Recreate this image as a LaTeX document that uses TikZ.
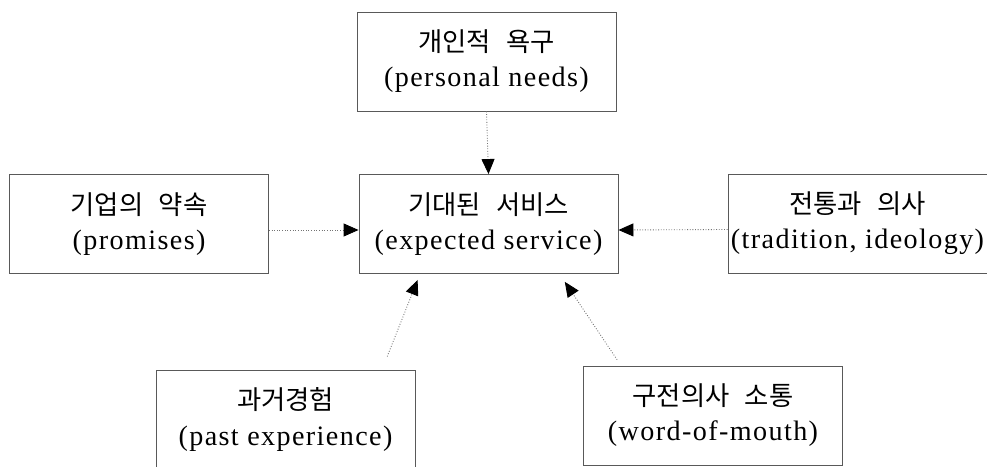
\documentclass[tikz,border=0pt]{standalone}
\usepackage{fontspec}
\setmainfont[LetterSpace=5]{Liberation Serif}
\newfontfamily\kr[WordSpace=2.6]{Noto Sans CJK KR}
\usetikzlibrary{arrows.meta}

\newcommand{\kname}[1]{{\kr\fontsize{15}{20}\selectfont #1}}

\begin{document}
\begin{tikzpicture}[
    factor/.style={rectangle,draw=black!65,line width=0.5pt,minimum width=5.18cm,minimum height=1.98cm,inner sep=0pt,align=center,font=\fontsize{16}{20}\selectfont},
    arrow/.style={-{Triangle[length=3mm,width=2.6mm,color=black]},draw=black!55,densely dotted,line width=0.5pt}
]

% Frame
\useasboundingbox (0,0) rectangle (19.74,9.32);
\clip (0,0) rectangle (19.74,9.32);

% Central factor
\node[factor] (expected) at (9.77,4.84) {\kname{기대된 서비스}\\(expected service)};

% Influencing factors
\node[factor] (needs) at (9.73,8.09) {\kname{개인적 욕구}\\(personal needs)};
\node[factor] (promises) at (2.78,4.84) {\kname{기업의 약속}\\(promises)};
\node[factor] (tradition) at (17.15,4.85) {\kname{전통과 의사}\\(tradition, ideology)};
\node[factor] (past) at (5.71,0.93) {\kname{과거경험}\\(past experience)};
\node[factor] (word) at (14.26,1.01) {\kname{구전의사 소통}\\(word-of-mouth)};

% Connections
\draw[arrow] (needs.south) -- (expected.north);
\draw[arrow] ([yshift=-0.12cm]promises.east) -- ([yshift=-0.12cm]expected.west);
\draw[arrow] ([yshift=-0.12cm]tradition.west) -- ([yshift=-0.12cm]expected.east);
\draw[arrow,shorten <=0.28cm,shorten >=0.13cm] ([xshift=1.93cm]past.north) -- ([xshift=-1.37cm]expected.south);
\draw[arrow,shorten <=0.14cm,shorten >=0.19cm] ([xshift=-1.84cm]word.north) -- ([xshift=1.42cm]expected.south);

\end{tikzpicture}
\end{document}
